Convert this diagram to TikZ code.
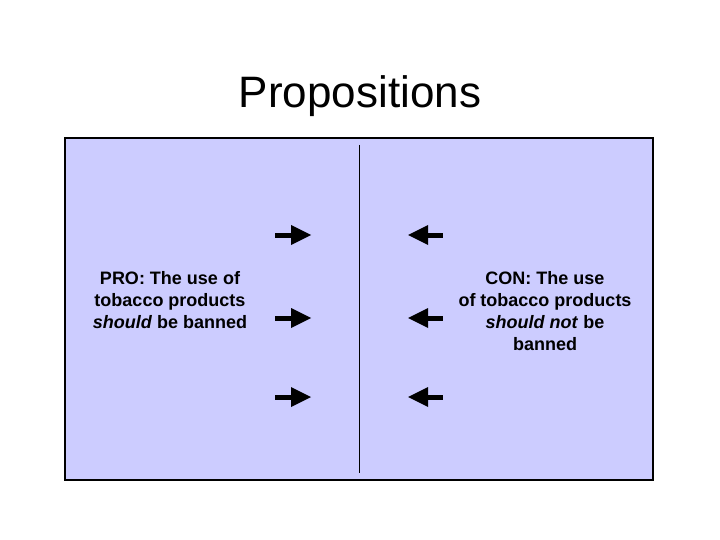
\documentclass[tikz,border=0pt]{standalone}
\usepackage{fontspec}
\setmainfont{Liberation Sans}
\usepackage{tikz}
\usepackage{color}

\begin{document}
\begin{tikzpicture}[x=1pt,y=1pt]
\tikzstyle{every node}+=[inner sep=0pt]
\tikzstyle{side text}=[align=center,font=\fontsize{18}{22}\selectfont\bfseries]
\definecolor{lavender}{RGB}{204,204,255}
\useasboundingbox (0,0) rectangle (720,-540);
\draw (360,-96) node (title) [font=\fontsize{44}{50}\selectfont] {Propositions};
\draw [black,line width=1.5pt,fill=lavender] (65,-138) rectangle (653,-480);
\draw [black,line width=1pt] (359,-145) -- (359,-473);
\draw (170,-300) node (pro) [side text] {PRO: The use of\\
tobacco products\\
\textit{should} be banned};
\draw (545,-311) node (con) [side text] {CON: The use\\
of tobacco products\\
\textit{should not} be\\
banned};
\foreach \y in {235,318,397} {
  \draw [black,line width=5pt] (275,-\y) -- (292,-\y);
  \fill [black] (311,-\y) -- (291,-\y+10) -- (291,-\y-10);
  \draw [black,line width=5pt] (427,-\y) -- (443,-\y);
  \fill [black] (408,-\y) -- (428,-\y+10) -- (428,-\y-10);
}
\end{tikzpicture}
\end{document}
